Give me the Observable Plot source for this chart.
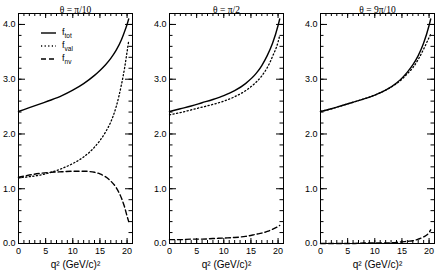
<!DOCTYPE html>
<html>
<head>
<meta charset="utf-8">
<script src="https://cdn.jsdelivr.net/npm/d3@7"></script>
<script src="https://cdn.jsdelivr.net/npm/@observablehq/plot@0.6"></script>
<style>
  html, body { margin: 0; padding: 0; background: #fff; }
  #wrap { position: relative; width: 436px; height: 273px; overflow: hidden; }
  #wrap > svg { position: absolute; top: 0; }
</style>
</head>
<body>
<div id="wrap"></div>
<script>
// ---- data ----
const titles = ["θ = π/10", "θ = π/2", "θ = 9π/10"];
const seriesNames = ["tot", "val", "nv"];

// panel 1: θ = π/10
const q2_p1 = [0, 2, 4, 6, 8, 10, 12, 14, 15, 16, 17, 18, 19, 19.5, 20, 20.3];
const tot_p1 = [2.41, 2.48, 2.55, 2.62, 2.70, 2.80, 2.92, 3.07, 3.16, 3.26, 3.38, 3.53, 3.73, 3.86, 4.00, 4.10];
const val_p1 = [1.20, 1.22, 1.25, 1.30, 1.37, 1.46, 1.58, 1.76, 1.88, 2.03, 2.22, 2.50, 2.92, 3.18, 3.50, 3.70];
const nv_p1  = [1.21, 1.25, 1.28, 1.30, 1.31, 1.32, 1.32, 1.30, 1.27, 1.22, 1.14, 1.02, 0.82, 0.68, 0.50, 0.40];

// panel 2: θ = π/2
const q2_p2 = [0, 2, 4, 6, 8, 10, 12, 14, 16, 17, 18, 19, 20, 20.3];
const tot_p2 = [2.41, 2.46, 2.51, 2.57, 2.63, 2.70, 2.79, 2.92, 3.11, 3.25, 3.43, 3.66, 3.98, 4.10];
const val_p2 = [2.35, 2.39, 2.44, 2.49, 2.54, 2.60, 2.68, 2.79, 2.95, 3.06, 3.21, 3.42, 3.68, 3.80];
const nv_p2  = [0.07, 0.07, 0.08, 0.08, 0.09, 0.10, 0.11, 0.13, 0.17, 0.19, 0.22, 0.26, 0.31, 0.33];

// panel 3: θ = 9π/10
const q2_p3 = [0, 2, 4, 6, 8, 10, 12, 14, 15, 16, 17, 18, 19, 20, 20.3];
const tot_p3 = [2.41, 2.46, 2.52, 2.58, 2.64, 2.71, 2.80, 2.93, 3.02, 3.13, 3.26, 3.43, 3.66, 3.98, 4.10];
const val_p3 = [2.41, 2.46, 2.52, 2.58, 2.64, 2.71, 2.80, 2.92, 3.00, 3.10, 3.21, 3.36, 3.55, 3.76, 3.82];
const nv_p3  = [0.00, 0.00, 0.00, 0.00, 0.01, 0.01, 0.01, 0.02, 0.03, 0.04, 0.05, 0.08, 0.12, 0.20, 0.25];

const xMajor = [0, 5, 10, 15, 20];
const xMinor = d3.range(0, 22, 1);
const yMajor = [0, 1, 2, 3, 4];
const yMinor = d3.range(0, 4.21, 0.2).map(v => +v.toFixed(1));

const panels = [
  {title: titles[0], q2: q2_p1, tot: tot_p1, val: val_p1, nv: nv_p1, left: 0},
  {title: titles[1], q2: q2_p2, tot: tot_p2, val: val_p2, nv: nv_p2, left: 151},
  {title: titles[2], q2: q2_p3, tot: tot_p3, val: val_p3, nv: nv_p3, left: 302}
];

const styles = {
  tot: {strokeWidth: 1.4},
  val: {strokeWidth: 1.3, strokeDasharray: "1.2,2.4"},
  nv:  {strokeWidth: 1.4, strokeDasharray: "5,3"}
};

const W = 134, H = 273, mL = 18, mR = 2, mT = 13, mB = 30;
const fw = W - mL - mR, fh = H - mT - mB;
const sans = "Liberation Sans, Arial, sans-serif";
const serif = "Liberation Serif, Times New Roman, serif";

const wrap = document.getElementById("wrap");

panels.forEach((p, i) => {
  const rows = s => p.q2.map((x, k) => ({x, y: p[s][k]}));
  const marks = [
    Plot.frame({stroke: "#000", strokeWidth: 1}),
    // inward ticks, bottom & top
    Plot.tickX(xMinor, {x: d => d, insetTop: fh - 3, stroke: "#000"}),
    Plot.tickX(xMinor, {x: d => d, insetBottom: fh - 3, stroke: "#000"}),
    Plot.tickX(xMajor, {x: d => d, insetTop: fh - 5, stroke: "#000"}),
    Plot.tickX(xMajor, {x: d => d, insetBottom: fh - 5, stroke: "#000"}),
    // inward ticks, left & right
    Plot.tickY(yMinor, {y: d => d, insetRight: fw - 3.5, stroke: "#000"}),
    Plot.tickY(yMinor, {y: d => d, insetLeft: fw - 3.5, stroke: "#000"}),
    Plot.tickY(yMajor, {y: d => d, insetRight: fw - 7, stroke: "#000"}),
    Plot.tickY(yMajor, {y: d => d, insetLeft: fw - 7, stroke: "#000"}),
    Plot.axisX(xMajor, {tickSize: 0, tickPadding: 4, fontSize: 9, fontFamily: sans,
      label: null}),
    Plot.axisY(yMajor, {tickSize: 0, tickPadding: 3, fontSize: 9, fontFamily: sans,
      tickFormat: d3.format(".1f"), label: null}),
    Plot.text([p.title], {text: d => d, frameAnchor: "top", dy: -7, fontSize: 9.5, fontFamily: serif, fill: "#000"}),
    Plot.text(["q² (GeV/c)²"], {text: d => d, frameAnchor: "bottom", dy: 24, fontSize: 10, fontFamily: sans, fill: "#000"}),
  ];
  seriesNames.forEach(s => {
    marks.push(Plot.line(rows(s), {x: "x", y: "y", curve: "monotone-x", stroke: "#000", ...styles[s]}));
  });
  const svg = Plot.plot({
    width: W, height: H,
    marginLeft: mL, marginRight: mR, marginTop: mT, marginBottom: mB,
    x: {domain: [0, 21]},
    y: {domain: [0, 4.2]},
    style: {background: "transparent", color: "#000", fontFamily: sans},
    marks
  });
  svg.style.left = p.left + "px";
  wrap.appendChild(svg);
});

// legend (panel 1)
const leg = d3.select(wrap).append("svg")
  .attr("width", 80).attr("height", 44)
  .style("position", "absolute").style("left", "38px").style("top", "26px");
seriesNames.forEach((s, k) => {
  const y = 7 + k * 13;
  const ln = leg.append("line").attr("x1", 3).attr("x2", 18).attr("y1", y).attr("y2", y)
    .attr("stroke", "#000").attr("stroke-width", styles[s].strokeWidth);
  if (styles[s].strokeDasharray) ln.attr("stroke-dasharray", styles[s].strokeDasharray);
  const t = leg.append("text").attr("x", 24).attr("y", y + 2)
    .attr("font-family", sans).attr("font-size", 9).attr("fill", "#000");
  t.append("tspan").text("f");
  t.append("tspan").attr("dy", 2.5).attr("font-size", 6.5).text(s);
});
</script>
</body>
</html>
